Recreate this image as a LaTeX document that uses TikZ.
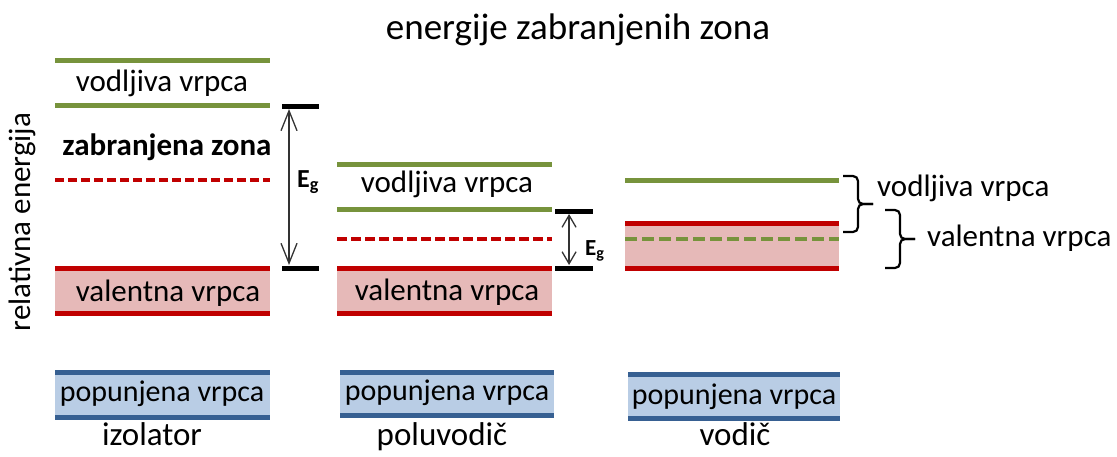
\documentclass[tikz,border=0pt]{standalone}
\usepackage{fontspec}
\setmainfont{Carlito}
\usetikzlibrary{arrows.meta}
\definecolor{vodgreen}{RGB}{119,147,60}
\definecolor{valred}{RGB}{192,0,0}
\definecolor{valpink}{RGB}{230,185,184}
\definecolor{popblue}{RGB}{55,96,146}
\definecolor{poplight}{RGB}{185,205,229}

\begin{document}
\begin{tikzpicture}[x=1pt,y=-1pt,
lbl/.style={inner sep=0pt,font=\fontsize{31}{36}\selectfont},
namelbl/.style={inner sep=0pt,anchor=base,font=\fontsize{33}{38}\selectfont},
eglbl/.style={inner sep=0pt,anchor=base west,font=\fontsize{26}{30}\selectfont\bfseries},
vodline/.style={vodgreen,line width=5pt},
valline/.style={valred,line width=5pt},
popline/.style={popblue,line width=5pt},
egbar/.style={black,line width=5pt},
gaparrow/.style={black!80,line width=1.3pt},
brc/.style={black,line width=2.2pt,rounded corners=5pt}]
\useasboundingbox (0,0) rectangle (1117,456);
\node[lbl,font=\fontsize{37}{42}\selectfont] (title) at (578,30) {energije zabranjenih zona};
\node[lbl,rotate=90] (axis) at (22,222) {relativna energija};
% Izolator
\draw[vodline] (55,60) -- (270,60);
\draw[vodline] (55,105) -- (270,105);
\node[lbl] (izvod) at (162,83) {vodljiva vrpca};
\node[lbl,font=\fontsize{31}{36}\selectfont\bfseries] (izzab) at (167,147) {zabranjena zona};
\draw[valline,line width=3.5pt,dash pattern=on 9pt off 4pt] (55,180) -- (270,180);
\fill[valpink] (55,268) rectangle (270,313);
\draw[valline] (55,268) -- (270,268);
\draw[valline] (55,313) -- (270,313);
\node[lbl] (izval) at (168,293) {valentna vrpca};
\fill[poplight] (55,372) rectangle (270,417);
\draw[popline] (55,372) -- (270,372);
\draw[popline] (55,417) -- (270,417);
\node[lbl,font=\fontsize{30}{36}\selectfont] (izpop) at (162,394) {popunjena vrpca};
\node[namelbl] (izname) at (152,445) {izolator};
% Eg izolatora
\draw[egbar] (282,106) -- (319,106) coordinate[pos=0.19] (eg1top);
\draw[egbar] (282,268) -- (319,268) coordinate[pos=0.19] (eg1bot);
\draw[gaparrow,{Straight Barb[length=20pt,width=16pt]}-{Straight Barb[length=20pt,width=16pt]}] ([yshift=-3pt]eg1top) -- ([yshift=3pt]eg1bot);
\node[eglbl] (eg1) at (297,187) {E\textsubscript{g}};
% Poluvodic
\draw[vodline] (337,164) -- (552,164);
\draw[vodline] (337,209) -- (552,209);
\node[lbl] (pvvod) at (447,184) {vodljiva vrpca};
\draw[valline,line width=3.5pt,dash pattern=on 10pt off 4pt] (337,239) -- (552,239);
\fill[valpink] (337,268) rectangle (552,313);
\draw[valline] (337,268) -- (552,268);
\draw[valline] (337,313) -- (552,313);
\node[lbl] (pvval) at (447,292) {valentna vrpca};
\fill[poplight] (340,372) rectangle (554,415);
\draw[popline] (340,372) -- (554,372);
\draw[popline] (340,415) -- (554,415);
\node[lbl,font=\fontsize{30}{36}\selectfont] (pvpop) at (447,393) {popunjena vrpca};
\node[namelbl] (pvname) at (442,445) {poluvodič};
% Eg poluvodica
\draw[egbar] (555,211) -- (593,211) coordinate[pos=0.37] (eg2top);
\draw[egbar] (555,268) -- (593,268) coordinate[pos=0.37] (eg2bot);
\draw[gaparrow,{Straight Barb[length=12pt,width=14pt]}-{Straight Barb[length=12pt,width=14pt]}] ([yshift=-3pt]eg2top) -- ([yshift=3pt]eg2bot);
\node[eglbl,font=\fontsize{23}{27}\selectfont\bfseries] (eg2) at (585,255) {E\textsubscript{g}};
% Vodic
\draw[vodline] (625,180) -- (839,180);
\fill[valpink] (625,223) rectangle (839,268);
\draw[valline] (625,223) -- (839,223);
\draw[valline] (625,268) -- (839,268);
\draw[vodline,line width=3.5pt,dash pattern=on 12pt off 5pt] (625,239) -- (839,239);
\fill[poplight] (628,374) rectangle (840,418);
\draw[popline] (628,374) -- (840,374);
\draw[popline] (628,418) -- (840,418);
\node[lbl,font=\fontsize{30}{36}\selectfont] (vdpop) at (734,397) {popunjena vrpca};
\node[namelbl] (vdname) at (735,445) {vodič};
% Zagrade
\coordinate (b1top) at (843,176);
\coordinate (b1bot) at (843,232);
\coordinate (b1tip) at (873,204);
\draw[brc] (b1top) -- ++(15,0) |- (b1tip);
\draw[brc] (b1bot) -- ++(15,0) |- (b1tip);
\node[lbl,anchor=west] (brvod) at (877,188) {vodljiva vrpca};
\coordinate (b2top) at (885,210);
\coordinate (b2bot) at (885,268);
\coordinate (b2tip) at (915,239);
\draw[brc] (b2top) -- ++(15,0) |- (b2tip);
\draw[brc] (b2bot) -- ++(15,0) |- (b2tip);
\node[lbl,anchor=west] (brval) at (927,238) {valentna vrpca};
\end{tikzpicture}
\end{document}
